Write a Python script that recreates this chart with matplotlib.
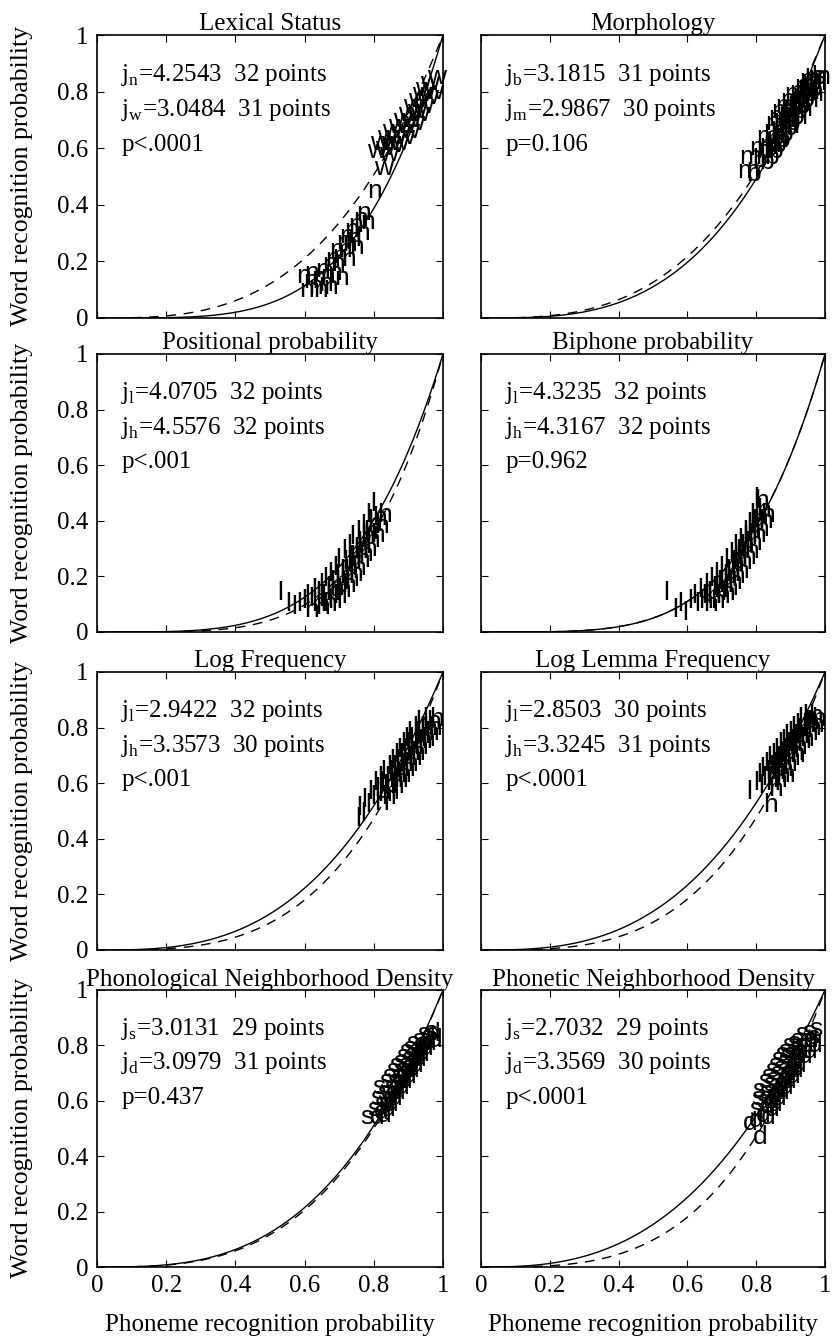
import numpy as np
import matplotlib
matplotlib.use('Agg')
import matplotlib.pyplot as plt

plt.rcParams['font.family'] = 'Liberation Serif'
plt.rcParams['mathtext.fontset'] = 'custom'
plt.rcParams['mathtext.rm'] = 'Liberation Serif'

# panel titles, group letters, fitted j factors, point counts and p values
titles = ['Lexical Status', 'Morphology',
          'Positional probability', 'Biphone probability',
          'Log Frequency', 'Log Lemma Frequency',
          'Phonological Neighborhood Density', 'Phonetic Neighborhood Density']
letters = [('n', 'w'), ('b', 'm'), ('l', 'h'), ('l', 'h'),
           ('l', 'h'), ('l', 'h'), ('s', 'd'), ('s', 'd')]
j_vals = [(4.2543, 3.0484), (3.1815, 2.9867), (4.0705, 4.5576), (4.3235, 4.3167),
          (2.9422, 3.3573), (2.8503, 3.3245), (3.0131, 3.0979), (2.7032, 3.3569)]
p_text = ['p<.0001', 'p=0.106', 'p<.001', 'p=0.962',
          'p<.001', 'p<.0001', 'p=0.437', 'p<.0001']

# lexical status: n / w
lex_n_x = [0.575, 0.585, 0.595, 0.60, 0.61, 0.62, 0.625, 0.63, 0.64, 0.645, 0.65, 0.655, 0.66, 0.665, 0.67, 0.675,
           0.68, 0.685, 0.69, 0.695, 0.70, 0.705, 0.71, 0.715, 0.72, 0.725, 0.73, 0.74, 0.745, 0.75, 0.76, 0.78]
lex_n_y = [0.15, 0.10, 0.13, 0.16, 0.11, 0.14, 0.10, 0.17, 0.12, 0.15, 0.19, 0.11, 0.21, 0.16, 0.24, 0.19,
           0.22, 0.14, 0.27, 0.24, 0.29, 0.21, 0.26, 0.31, 0.28, 0.33, 0.25, 0.35, 0.30, 0.37, 0.34, 0.45]
lex_w_x = [0.78, 0.79, 0.80, 0.805, 0.81, 0.815, 0.82, 0.825, 0.83, 0.835, 0.84, 0.845, 0.85, 0.855, 0.86, 0.865,
           0.87, 0.875, 0.88, 0.885, 0.89, 0.895, 0.90, 0.905, 0.91, 0.915, 0.92, 0.93, 0.935, 0.945, 0.955]
lex_w_y = [0.59, 0.62, 0.53, 0.60, 0.64, 0.58, 0.62, 0.66, 0.61, 0.64, 0.68, 0.62, 0.66, 0.70, 0.64, 0.68,
           0.72, 0.66, 0.70, 0.75, 0.69, 0.73, 0.77, 0.72, 0.79, 0.75, 0.81, 0.78, 0.83, 0.80, 0.85]

# morphology: b / m
mor_b_x = [0.77, 0.79, 0.80, 0.81, 0.82, 0.825, 0.83, 0.835, 0.84, 0.845, 0.85, 0.855, 0.86, 0.865, 0.87, 0.875,
           0.88, 0.885, 0.89, 0.895, 0.90, 0.905, 0.91, 0.915, 0.92, 0.925, 0.93, 0.935, 0.94, 0.95, 0.96]
mor_b_y = [0.51, 0.56, 0.59, 0.55, 0.60, 0.57, 0.62, 0.59, 0.64, 0.61, 0.66, 0.63, 0.68, 0.65, 0.70, 0.67,
           0.72, 0.69, 0.74, 0.71, 0.76, 0.73, 0.78, 0.75, 0.80, 0.77, 0.82, 0.79, 0.84, 0.81, 0.85]
mor_m_x = [0.745, 0.75, 0.78, 0.80, 0.81, 0.82, 0.825, 0.83, 0.835, 0.84, 0.845, 0.85, 0.855, 0.86, 0.865,
           0.87, 0.875, 0.88, 0.885, 0.89, 0.895, 0.90, 0.905, 0.91, 0.915, 0.92, 0.925, 0.93, 0.94, 0.95]
mor_m_y = [0.52, 0.57, 0.60, 0.64, 0.61, 0.66, 0.69, 0.63, 0.71, 0.67, 0.73, 0.70, 0.75, 0.68, 0.72,
           0.77, 0.74, 0.79, 0.71, 0.76, 0.80, 0.74, 0.78, 0.82, 0.77, 0.80, 0.84, 0.79, 0.83, 0.85]

# positional probability: l / h
pos_l_x = [0.52, 0.545, 0.56, 0.575, 0.59, 0.60, 0.61, 0.62, 0.63, 0.64, 0.645, 0.65, 0.66, 0.665, 0.67, 0.68,
           0.685, 0.69, 0.70, 0.705, 0.71, 0.72, 0.725, 0.73, 0.74, 0.745, 0.75, 0.76, 0.77, 0.775, 0.78, 0.79]
pos_l_y = [0.14, 0.10, 0.09, 0.10, 0.11, 0.13, 0.12, 0.15, 0.14, 0.17, 0.13, 0.19, 0.16, 0.21, 0.18, 0.23,
           0.20, 0.26, 0.22, 0.29, 0.25, 0.31, 0.27, 0.34, 0.30, 0.36, 0.32, 0.38, 0.35, 0.42, 0.40, 0.46]
pos_h_x = [0.60, 0.62, 0.63, 0.64, 0.65, 0.66, 0.665, 0.67, 0.68, 0.685, 0.69, 0.70, 0.705, 0.71, 0.715, 0.72,
           0.725, 0.73, 0.735, 0.74, 0.745, 0.75, 0.755, 0.76, 0.765, 0.77, 0.775, 0.78, 0.79, 0.795, 0.80, 0.81]
pos_h_y = [0.08, 0.10, 0.09, 0.12, 0.10, 0.14, 0.11, 0.16, 0.13, 0.18, 0.15, 0.20, 0.17, 0.22, 0.19, 0.25,
           0.21, 0.27, 0.23, 0.29, 0.26, 0.31, 0.28, 0.34, 0.30, 0.36, 0.33, 0.39, 0.35, 0.41, 0.38, 0.42]

# biphone probability: l / h
bip_l_x = [0.53, 0.555, 0.57, 0.585, 0.60, 0.61, 0.62, 0.63, 0.64, 0.645, 0.655, 0.66, 0.67, 0.675, 0.685, 0.69,
           0.70, 0.705, 0.71, 0.72, 0.725, 0.73, 0.74, 0.745, 0.75, 0.76, 0.765, 0.77, 0.775, 0.78, 0.785, 0.79]
bip_l_y = [0.14, 0.08, 0.10, 0.07, 0.11, 0.13, 0.10, 0.15, 0.13, 0.17, 0.14, 0.19, 0.16, 0.21, 0.18, 0.23,
           0.20, 0.26, 0.22, 0.28, 0.25, 0.31, 0.27, 0.33, 0.30, 0.36, 0.32, 0.39, 0.35, 0.42, 0.40, 0.48]
bip_h_x = [0.63, 0.645, 0.655, 0.665, 0.675, 0.68, 0.69, 0.695, 0.70, 0.705, 0.71, 0.715, 0.72, 0.725, 0.73, 0.735,
           0.74, 0.745, 0.75, 0.755, 0.76, 0.765, 0.77, 0.775, 0.78, 0.785, 0.79, 0.795, 0.80, 0.805, 0.81, 0.795]
bip_h_y = [0.11, 0.10, 0.13, 0.11, 0.15, 0.13, 0.17, 0.14, 0.19, 0.16, 0.21, 0.18, 0.24, 0.20, 0.26, 0.22,
           0.29, 0.25, 0.31, 0.27, 0.34, 0.29, 0.36, 0.32, 0.39, 0.35, 0.41, 0.37, 0.44, 0.40, 0.42, 0.47]

# log frequency: l / h
lfr_l_x = [0.745, 0.75, 0.76, 0.765, 0.775, 0.78, 0.79, 0.795, 0.80, 0.81, 0.815, 0.82, 0.83, 0.835, 0.84, 0.845,
           0.85, 0.855, 0.86, 0.865, 0.87, 0.875, 0.88, 0.885, 0.89, 0.895, 0.90, 0.91, 0.915, 0.92, 0.93, 0.94]
lfr_l_y = [0.47, 0.51, 0.49, 0.54, 0.52, 0.57, 0.55, 0.60, 0.58, 0.62, 0.60, 0.64, 0.62, 0.66, 0.64, 0.68,
           0.66, 0.70, 0.68, 0.72, 0.70, 0.74, 0.72, 0.76, 0.74, 0.78, 0.76, 0.80, 0.78, 0.82, 0.80, 0.83]
lfr_h_x = [0.80, 0.81, 0.82, 0.825, 0.83, 0.84, 0.845, 0.85, 0.855, 0.86, 0.865, 0.87, 0.875, 0.88, 0.885,
           0.89, 0.895, 0.90, 0.905, 0.91, 0.915, 0.92, 0.925, 0.93, 0.935, 0.94, 0.945, 0.95, 0.955, 0.96]
lfr_h_y = [0.53, 0.56, 0.55, 0.59, 0.57, 0.61, 0.59, 0.63, 0.61, 0.65, 0.63, 0.67, 0.65, 0.69, 0.67,
           0.71, 0.69, 0.73, 0.71, 0.75, 0.73, 0.77, 0.75, 0.78, 0.76, 0.80, 0.78, 0.82, 0.80, 0.83]

# log lemma frequency: l / h
llm_l_x = [0.77, 0.79, 0.80, 0.805, 0.81, 0.815, 0.82, 0.825, 0.83, 0.835, 0.84, 0.845, 0.85, 0.855, 0.86,
           0.865, 0.87, 0.875, 0.88, 0.885, 0.89, 0.895, 0.90, 0.905, 0.91, 0.915, 0.92, 0.93, 0.935, 0.945]
llm_l_y = [0.57, 0.60, 0.63, 0.59, 0.65, 0.62, 0.67, 0.64, 0.69, 0.66, 0.70, 0.67, 0.72, 0.69, 0.74,
           0.71, 0.75, 0.72, 0.77, 0.74, 0.78, 0.75, 0.80, 0.77, 0.81, 0.79, 0.83, 0.80, 0.84, 0.82]
llm_h_x = [0.82, 0.825, 0.83, 0.835, 0.84, 0.845, 0.85, 0.855, 0.86, 0.865, 0.87, 0.875, 0.88, 0.885, 0.89, 0.895,
           0.90, 0.905, 0.91, 0.915, 0.92, 0.925, 0.93, 0.935, 0.94, 0.945, 0.95, 0.955, 0.96, 0.87, 0.90]
llm_h_y = [0.52, 0.60, 0.62, 0.58, 0.64, 0.61, 0.66, 0.63, 0.68, 0.65, 0.70, 0.67, 0.72, 0.69, 0.74, 0.71,
           0.76, 0.73, 0.77, 0.75, 0.79, 0.76, 0.81, 0.78, 0.82, 0.80, 0.84, 0.81, 0.83, 0.63, 0.70]

# phonological neighborhood density: s / d
pnd_s_x = [0.76, 0.78, 0.79, 0.795, 0.80, 0.81, 0.815, 0.82, 0.825, 0.83, 0.835, 0.84, 0.845, 0.85, 0.855,
           0.86, 0.865, 0.87, 0.875, 0.88, 0.885, 0.89, 0.895, 0.90, 0.91, 0.915, 0.925, 0.935, 0.945]
pnd_s_y = [0.54, 0.57, 0.61, 0.65, 0.59, 0.63, 0.67, 0.61, 0.69, 0.65, 0.71, 0.67, 0.73, 0.69, 0.74,
           0.71, 0.76, 0.73, 0.78, 0.75, 0.79, 0.77, 0.81, 0.78, 0.82, 0.80, 0.84, 0.82, 0.85]
pnd_d_x = [0.79, 0.80, 0.81, 0.815, 0.82, 0.825, 0.83, 0.835, 0.84, 0.845, 0.85, 0.855, 0.86, 0.865, 0.87, 0.875,
           0.88, 0.885, 0.89, 0.895, 0.90, 0.905, 0.91, 0.915, 0.92, 0.925, 0.93, 0.935, 0.94, 0.95, 0.955]
pnd_d_y = [0.54, 0.56, 0.55, 0.59, 0.57, 0.61, 0.59, 0.63, 0.61, 0.65, 0.63, 0.67, 0.65, 0.69, 0.67, 0.71,
           0.69, 0.73, 0.71, 0.75, 0.73, 0.77, 0.75, 0.79, 0.77, 0.81, 0.79, 0.83, 0.81, 0.84, 0.82]

# phonetic neighborhood density: s / d
phn_s_x = [0.78, 0.785, 0.79, 0.80, 0.805, 0.81, 0.815, 0.82, 0.825, 0.83, 0.835, 0.84, 0.845, 0.85, 0.855,
           0.86, 0.865, 0.87, 0.875, 0.88, 0.89, 0.895, 0.90, 0.91, 0.915, 0.925, 0.935, 0.945, 0.955]
phn_s_y = [0.57, 0.61, 0.64, 0.60, 0.67, 0.63, 0.69, 0.66, 0.71, 0.68, 0.73, 0.70, 0.75, 0.72, 0.77,
           0.74, 0.78, 0.76, 0.80, 0.77, 0.81, 0.79, 0.82, 0.80, 0.84, 0.82, 0.85, 0.83, 0.86]
phn_d_x = [0.76, 0.78, 0.79, 0.80, 0.81, 0.815, 0.82, 0.825, 0.83, 0.835, 0.84, 0.845, 0.85, 0.855, 0.86,
           0.865, 0.87, 0.875, 0.88, 0.885, 0.89, 0.895, 0.90, 0.905, 0.91, 0.92, 0.925, 0.935, 0.94, 0.95]
phn_d_y = [0.52, 0.53, 0.47, 0.55, 0.58, 0.54, 0.60, 0.57, 0.62, 0.59, 0.64, 0.61, 0.66, 0.63, 0.68,
           0.65, 0.70, 0.67, 0.72, 0.69, 0.74, 0.71, 0.76, 0.73, 0.78, 0.76, 0.80, 0.78, 0.82, 0.80]

points = [((lex_n_x, lex_n_y), (lex_w_x, lex_w_y)),
          ((mor_b_x, mor_b_y), (mor_m_x, mor_m_y)),
          ((pos_l_x, pos_l_y), (pos_h_x, pos_h_y)),
          ((bip_l_x, bip_l_y), (bip_h_x, bip_h_y)),
          ((lfr_l_x, lfr_l_y), (lfr_h_x, lfr_h_y)),
          ((llm_l_x, llm_l_y), (llm_h_x, llm_h_y)),
          ((pnd_s_x, pnd_s_y), (pnd_d_x, pnd_d_y)),
          ((phn_s_x, phn_s_y), (phn_d_x, phn_d_y))]

ticks = [0, 0.2, 0.4, 0.6, 0.8, 1]
tick_labels = ['0', '0.2', '0.4', '0.6', '0.8', '1']

fig = plt.figure(figsize=(8.34, 13.39), dpi=100)
W, H = 834.0, 1339.0
col_left = [97, 481]
col_width = [346, 344]
row_top = [35, 354, 672, 990]
row_bottom = [318, 632, 950, 1267]

p = np.linspace(0, 1, 201)

for k in range(8):
    r, c = k // 2, k % 2
    ax = fig.add_axes([col_left[c] / W, 1 - row_bottom[r] / H,
                       col_width[c] / W, (row_bottom[r] - row_top[r]) / H])
    j1, j2 = j_vals[k]
    ax.plot(p, p ** j1, color='black', lw=1.0)
    ax.plot(p, p ** j2, color='black', lw=1.0, ls=(0, (7, 5.5)))

    (x1, y1), (x2, y2) = points[k]
    a, b = letters[k]
    for xi, yi in zip(x1, y1):
        ax.text(xi, yi, a, family='Liberation Sans', fontsize=19, ha='left', va='center')
    for xi, yi in zip(x2, y2):
        ax.text(xi, yi, b, family='Liberation Sans', fontsize=19, ha='left', va='center')

    ax.text(0.07, 0.86, r'j$_{\mathregular{%s}}$=%.4f  %d points' % (a, j1, len(x1)),
            fontsize=18, va='center')
    ax.text(0.07, 0.735, r'j$_{\mathregular{%s}}$=%.4f  %d points' % (b, j2, len(x2)),
            fontsize=18, va='center')
    ax.text(0.07, 0.61, p_text[k], fontsize=18, va='center')

    ax.set_xlim(0, 1)
    ax.set_ylim(0, 1)
    ax.set_xticks(ticks)
    ax.set_yticks(ticks)
    ax.tick_params(direction='in', top=True, right=True, length=5, width=0.8,
                   labelsize=18, pad=6)
    if r == 3:
        ax.set_xticklabels(tick_labels)
        ax.set_xlabel('Phoneme recognition probability', fontsize=18)
        ax.xaxis.set_label_coords(0.5, -0.17)
    else:
        ax.set_xticklabels([])
    if c == 0:
        ax.set_yticklabels(tick_labels)
        ax.set_ylabel('Word recognition probability', fontsize=18.5)
        ax.yaxis.set_label_coords(-0.185, 0.5)
    else:
        ax.set_yticklabels([])
    for s in ax.spines.values():
        s.set_linewidth(1.2)
    ax.set_title(titles[k], fontsize=18, pad=3)

fig.savefig('out.png', dpi=100)
